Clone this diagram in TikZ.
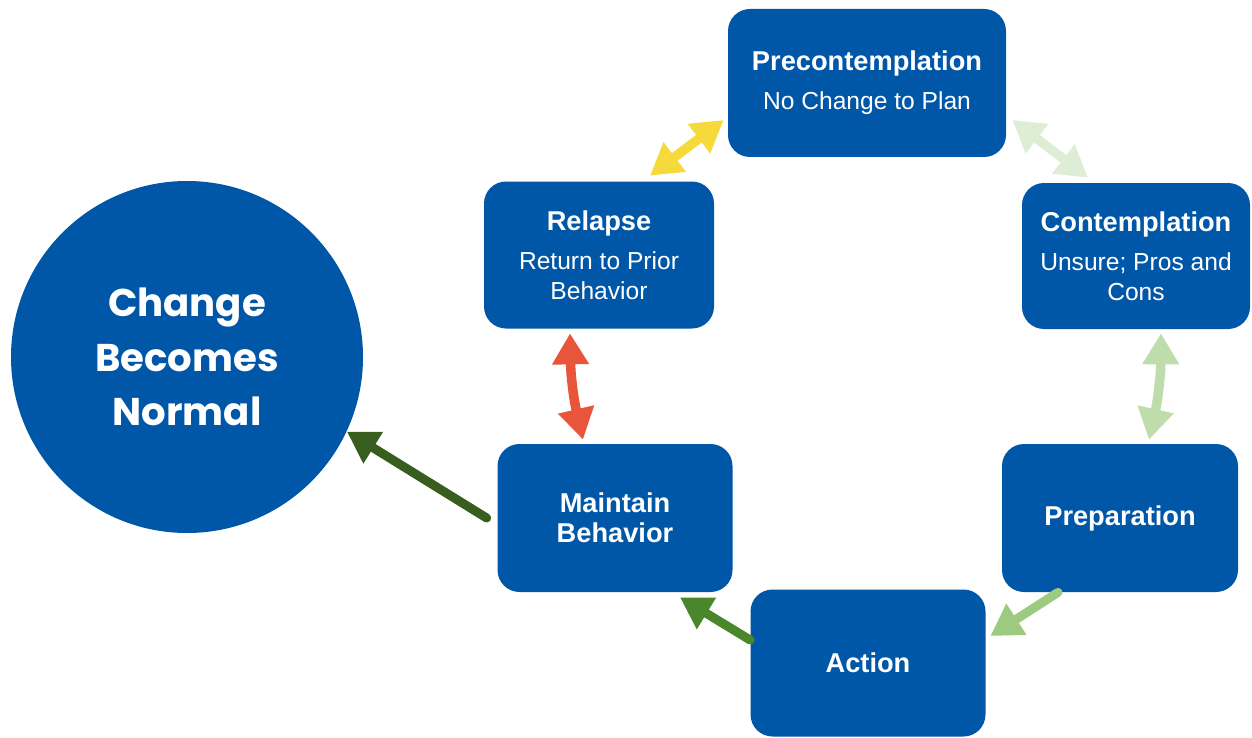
\documentclass[tikz,border=0pt]{standalone}
\usepackage{fontspec}
\setmainfont{Liberation Sans}
\newfontfamily\roundfont{Poppins}
\usetikzlibrary{positioning, calc, arrows.meta}
\definecolor{stageblue}{RGB}{0,87,168}
\definecolor{yellowarr}{RGB}{246,218,60}
\definecolor{palegreen}{RGB}{222,238,214}
\definecolor{lightgreen}{RGB}{190,221,170}
\definecolor{midgreen}{RGB}{156,203,128}
\definecolor{leafgreen}{RGB}{74,134,42}
\definecolor{darkgreen}{RGB}{55,94,30}
\definecolor{redarr}{RGB}{233,85,58}
\tikzset{stage/.style={draw=none, fill=stageblue, rounded corners=0.44cm, text=white, align=center,
  font=\fontsize{15.5}{17}\selectfont\bfseries}}
\newcommand{\subtext}{\mdseries\fontsize{14}{17}\selectfont}

\begin{document}
\begin{tikzpicture}[
		outcome/.style={circle, fill=stageblue, minimum size=7.04cm, inner sep=0pt, text=white, align=center,
		  font=\roundfont\fontsize{22}{31}\selectfont\bfseries},
		twoway/.style={{Triangle[length=0.62cm,width=0.7cm]}-{Triangle[length=0.62cm,width=0.7cm]}, line width=0.19cm},
		oneway/.style={-{Triangle[length=0.62cm,width=0.7cm]}, line width=0.18cm, line cap=round}
		]
		\useasboundingbox (0,0) rectangle (25.04,14.74);
		% stages of change
		\node[stage, minimum width=5.56cm, minimum height=2.96cm] (pre) at (17.34,13.08)
		  {Precontemplation\\[5pt]\subtext No Change to Plan};
		\node[stage, minimum width=4.56cm, minimum height=2.92cm] (con) at (22.72,9.62)
		  {Contemplation\\[5pt]\subtext Unsure; Pros and\\\subtext Cons};
		\node[stage, minimum width=4.72cm, minimum height=2.96cm] (prep) at (22.40,4.38) {Preparation};
		\node[stage, minimum width=4.70cm, minimum height=2.94cm] (act) at (17.36,1.48) {Action};
		\node[stage, minimum width=4.70cm, minimum height=2.96cm] (main) at (12.30,4.38) {Maintain\\Behavior};
		\node[stage, minimum width=4.60cm, minimum height=2.94cm] (rel) at (11.98,9.64)
		  {Relapse\\[5pt]\subtext Return to Prior\\\subtext Behavior};
		\node[outcome] (norm) at (3.74,7.60) {Change\\Becomes\\Normal};

		% arrows
		\draw[twoway, yellowarr] ($(rel.north)+(1.02,0.11)$) -- ($(pre.west)+(-0.08,-0.74)$);
		\draw[twoway, palegreen] ($(pre.east)+(0.12,-0.74)$) -- ($(con.north)+(-0.96,0.10)$);
		\draw[twoway, lightgreen] ($(con.south)+(0.50,-0.08)$) to[bend left=6] ($(prep.north)+(0.58,0.08)$);
		\draw[oneway, midgreen] ($(prep.south)+(-1.24,0)$) -- ($(act.east)+(0.09,0.54)$);
		\draw[oneway, leafgreen] ($(act.west)+(0,0.46)$) -- ($(main.south)+(1.30,-0.10)$);
		\draw[oneway, darkgreen] ($(main.west)+(-0.21,0)$) -- (norm.-25);
		\draw[twoway, redarr] ($(rel.south)+(-0.58,-0.09)$) to[bend right=6] ($(main.north)+(-0.64,0.08)$);
	\end{tikzpicture}
\end{document}
